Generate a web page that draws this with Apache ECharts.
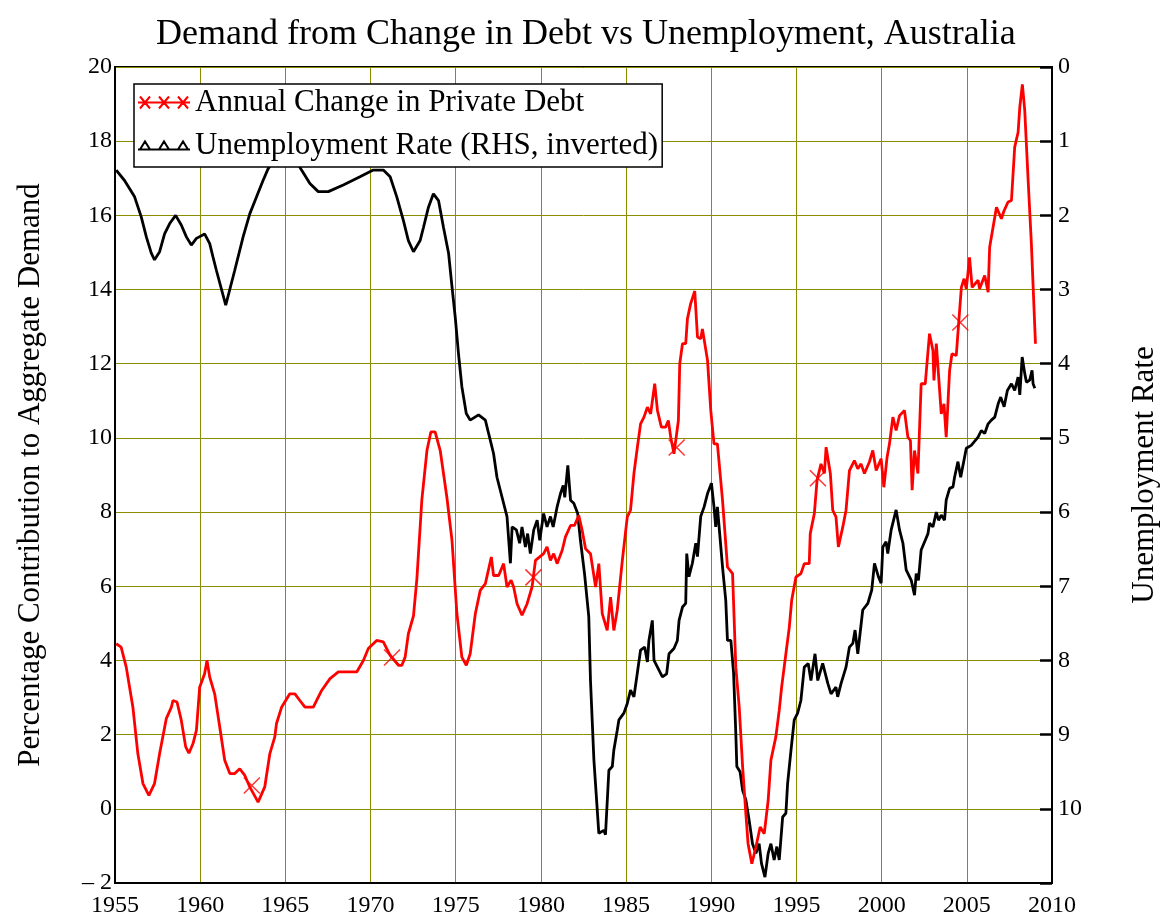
<!DOCTYPE html>
<html>
<head>
<meta charset="utf-8">
<script src="https://cdn.jsdelivr.net/npm/echarts@6/dist/echarts.min.js"></script>
<style>
  html, body { margin: 0; padding: 0; background: #fff; }
</style>
</head>
<body>
<div id="chart" style="width:1162px; height:918px"></div>
<script>
// 私人债务年变化 (左轴, %)
var debtYears = [1955.07, 1955.36, 1955.66, 1956.05, 1956.34, 1956.64, 1956.99, 1957.32, 1957.62, 1958.01,
  1958.31, 1958.40, 1958.64, 1958.89, 1959.15, 1959.34, 1959.58, 1959.78, 1959.97, 1960.26,
  1960.40, 1960.56, 1960.85, 1961.15, 1961.44, 1961.74, 1962.03, 1962.32, 1962.62, 1962.91,
  1963.40, 1963.79, 1964.09, 1964.38, 1964.48, 1964.78, 1965.26, 1965.56, 1965.85, 1966.15,
  1966.64, 1967.13, 1967.62, 1968.11, 1969.19, 1969.58, 1969.87, 1970.36, 1970.75, 1971.15,
  1971.64, 1971.84, 1972.03, 1972.22, 1972.52, 1972.72, 1973.01, 1973.31, 1973.54, 1973.79,
  1974.09, 1974.48, 1974.78, 1975.07, 1975.36, 1975.62, 1975.85, 1976.15, 1976.44, 1976.74,
  1977.09, 1977.22, 1977.52, 1977.81, 1978.01, 1978.25, 1978.40, 1978.60, 1978.89, 1979.19,
  1979.48, 1979.68, 1980.16, 1980.36, 1980.56, 1980.75, 1980.95, 1981.25, 1981.44, 1981.74,
  1981.97, 1982.22, 1982.42, 1982.62, 1982.91, 1983.21, 1983.40, 1983.60, 1983.89, 1984.09,
  1984.28, 1984.48, 1984.78, 1985.07, 1985.26, 1985.46, 1985.66, 1985.85, 1986.05, 1986.25,
  1986.44, 1986.68, 1986.84, 1987.07, 1987.32, 1987.48, 1987.62, 1987.81, 1988.07, 1988.15,
  1988.31, 1988.50, 1988.60, 1988.79, 1989.03, 1989.19, 1989.38, 1989.48, 1989.78, 1989.97,
  1990.16, 1990.36, 1990.66, 1990.85, 1990.95, 1991.25, 1991.44, 1991.64, 1991.84, 1992.03,
  1992.16, 1992.38, 1992.62, 1992.87, 1993.11, 1993.34, 1993.50, 1993.79, 1993.99, 1994.13,
  1994.38, 1994.58, 1994.72, 1994.97, 1995.26, 1995.46, 1995.75, 1995.81, 1996.05, 1996.21,
  1996.44, 1996.64, 1996.74, 1996.99, 1997.13, 1997.32, 1997.46, 1997.72, 1997.91, 1998.11,
  1998.40, 1998.60, 1998.79, 1998.99, 1999.28, 1999.48, 1999.68, 1999.97, 2000.13, 2000.32,
  2000.46, 2000.66, 2000.85, 2001.05, 2001.34, 2001.54, 2001.69, 2001.79, 2001.93, 2002.13,
  2002.32, 2002.56, 2002.81, 2003.01, 2003.07, 2003.21, 2003.50, 2003.66, 2003.79, 2003.99,
  2004.13, 2004.38, 2004.52, 2004.68, 2004.84, 2004.97, 2005.16, 2005.31, 2005.66, 2005.75,
  2006.05, 2006.25, 2006.34, 2006.54, 2006.74, 2007.03, 2007.19, 2007.42, 2007.62, 2007.81,
  2008.01, 2008.11, 2008.26, 2008.40, 2008.60, 2008.79, 2009.03];
var debtValues = [4.45, 4.36, 3.82, 2.74, 1.49, 0.68, 0.36, 0.68, 1.49, 2.43,
  2.74, 2.92, 2.88, 2.39, 1.67, 1.5, 1.76, 2.12, 3.28, 3.64,
  4.0, 3.55, 3.1, 2.2, 1.31, 0.95, 0.95, 1.08, 0.9, 0.59,
  0.18, 0.59, 1.49, 1.94, 2.3, 2.74, 3.1, 3.1, 2.92, 2.74,
  2.74, 3.19, 3.51, 3.69, 3.69, 4.0, 4.32, 4.54, 4.5, 4.14,
  3.87, 3.87, 4.09, 4.72, 5.2, 6.2, 8.32, 9.66, 10.16, 10.16,
  9.66, 8.4, 7.24, 5.26, 4.09, 3.87, 4.18, 5.26, 5.89, 6.07,
  6.79, 6.29, 6.29, 6.61, 5.98, 6.16, 5.98, 5.53, 5.22, 5.53,
  5.98, 6.7, 6.88, 7.06, 6.7, 6.88, 6.61, 6.97, 7.33, 7.64,
  7.64, 7.91, 7.51, 7.01, 6.88, 5.98, 6.61, 5.26, 4.81, 5.71,
  4.81, 5.35, 6.7, 7.87, 8.05, 9.04, 9.74, 10.38, 10.56, 10.83,
  10.65, 11.46, 10.74, 10.29, 10.29, 10.47, 10.02, 9.57, 10.47, 12.0,
  12.54, 12.54, 13.21, 13.62, 13.96, 12.72, 12.67, 12.94, 12.09, 10.74,
  9.84, 9.84, 8.32, 7.15, 6.52, 6.34, 3.82, 2.74, 1.13, -0.13,
  -0.94, -1.48, -1.03, -0.49, -0.67, 0.23, 1.31, 1.94, 2.66, 3.28,
  4.18, 4.9, 5.62, 6.25, 6.34, 6.61, 6.61, 7.42, 7.96, 8.86,
  9.3, 9.04, 9.75, 9.04, 8.05, 7.87, 7.06, 7.6, 8.05, 9.12,
  9.39, 9.17, 9.3, 9.04, 9.35, 9.66, 9.12, 9.44, 8.67, 9.48,
  9.84, 10.56, 10.2, 10.6, 10.74, 10.02, 9.93, 8.59, 9.66, 9.04,
  11.46, 11.46, 12.81, 12.36, 11.55, 12.54, 10.65, 10.92, 10.02, 11.82,
  12.27, 12.22, 13.08, 14.06, 14.29, 14.02, 14.87, 14.06, 14.25, 14.02,
  14.38, 13.93, 15.14, 15.68, 16.22, 15.91, 16.13, 16.36, 16.4, 17.84,
  18.24, 18.92, 19.53, 18.83, 16.94, 15.23, 12.54];

// 曲线上的 X 标记
var markYears = [1963.03, 1971.26, 1979.56, 1987.97, 1996.26, 2004.62];
var markValues = [0.63, 4.08, 6.24, 9.74, 8.91, 13.11];

// 失业率 (右轴, 倒置)
var unempYears = [1955.07, 1955.56, 1956.15, 1956.54, 1956.84, 1957.13, 1957.32, 1957.62, 1957.91, 1958.21,
  1958.56, 1958.89, 1959.19, 1959.48, 1959.78, 1960.26, 1960.56, 1960.75, 1960.95, 1961.50,
  1962.03, 1962.52, 1962.91, 1963.31, 1963.69, 1963.99, 1964.50, 1965.00, 1965.60, 1965.95,
  1966.44, 1966.93, 1967.52, 1968.40, 1969.38, 1970.16, 1970.75, 1971.15, 1971.54, 1971.93,
  1972.22, 1972.52, 1972.91, 1973.11, 1973.40, 1973.69, 1973.99, 1974.28, 1974.58, 1974.78,
  1974.97, 1975.16, 1975.36, 1975.62, 1975.85, 1976.34, 1976.74, 1976.93, 1977.22, 1977.42,
  1977.72, 1978.01, 1978.21, 1978.31, 1978.56, 1978.75, 1978.89, 1979.09, 1979.22, 1979.38,
  1979.58, 1979.78, 1979.93, 1980.16, 1980.36, 1980.56, 1980.72, 1980.95, 1981.15, 1981.31,
  1981.40, 1981.58, 1981.74, 1981.93, 1982.16, 1982.32, 1982.56, 1982.81, 1982.91, 1983.11,
  1983.40, 1983.69, 1983.79, 1983.99, 1984.19, 1984.28, 1984.48, 1984.58, 1984.87, 1985.07,
  1985.26, 1985.46, 1985.66, 1985.85, 1986.09, 1986.25, 1986.34, 1986.54, 1986.64, 1986.93,
  1987.13, 1987.38, 1987.52, 1987.81, 1988.01, 1988.11, 1988.31, 1988.50, 1988.56, 1988.69,
  1988.89, 1989.09, 1989.19, 1989.38, 1989.58, 1989.78, 1990.01, 1990.16, 1990.26, 1990.36,
  1990.66, 1990.85, 1990.95, 1991.15, 1991.31, 1991.44, 1991.50, 1991.69, 1991.84, 1992.03,
  1992.22, 1992.42, 1992.62, 1992.81, 1992.95, 1993.15, 1993.34, 1993.50, 1993.69, 1993.85,
  1993.99, 1994.19, 1994.38, 1994.48, 1994.68, 1994.87, 1995.07, 1995.26, 1995.46, 1995.69,
  1995.85, 1996.09, 1996.25, 1996.54, 1996.84, 1997.03, 1997.32, 1997.42, 1997.62, 1997.91,
  1998.11, 1998.31, 1998.44, 1998.60, 1998.89, 1999.19, 1999.42, 1999.58, 1999.81, 1999.97,
  2000.07, 2000.26, 2000.36, 2000.56, 2000.85, 2001.05, 2001.25, 2001.44, 2001.74, 2001.93,
  2002.03, 2002.16, 2002.32, 2002.56, 2002.72, 2002.81, 2003.01, 2003.21, 2003.34, 2003.50,
  2003.69, 2003.79, 2003.99, 2004.19, 2004.28, 2004.48, 2004.64, 2004.97, 2005.26, 2005.66,
  2005.85, 2006.05, 2006.25, 2006.44, 2006.64, 2006.84, 2006.99, 2007.19, 2007.38, 2007.62,
  2007.81, 2008.01, 2008.11, 2008.25, 2008.40, 2008.50, 2008.69, 2008.83, 2008.89, 2008.99];
var unempValues = [1.39, 1.53, 1.75, 2.02, 2.29, 2.51, 2.6, 2.49, 2.25, 2.11,
  2.0, 2.13, 2.29, 2.4, 2.31, 2.25, 2.38, 2.56, 2.74, 3.21,
  2.74, 2.29, 1.98, 1.75, 1.53, 1.37, 1.2, 1.15, 1.25, 1.39,
  1.57, 1.68, 1.68, 1.59, 1.48, 1.39, 1.39, 1.48, 1.75, 2.07,
  2.34, 2.49, 2.34, 2.16, 1.89, 1.71, 1.8, 2.16, 2.51, 2.96,
  3.37, 3.86, 4.31, 4.67, 4.76, 4.69, 4.76, 4.94, 5.21, 5.53,
  5.8, 6.06, 6.69, 6.2, 6.24, 6.42, 6.2, 6.47, 6.29, 6.56,
  6.24, 6.11, 6.38, 6.02, 6.2, 6.06, 6.2, 5.93, 5.75, 5.64,
  5.8, 5.37, 5.84, 5.88, 6.02, 6.38, 6.83, 7.41, 8.27, 9.34,
  10.33, 10.29, 10.35, 9.48, 9.43, 9.21, 8.94, 8.8, 8.71, 8.58,
  8.4, 8.49, 8.17, 7.86, 7.82, 8.02, 7.73, 7.46, 8.0, 8.13,
  8.22, 8.18, 7.91, 7.84, 7.73, 7.46, 7.28, 7.23, 6.56, 6.87,
  6.69, 6.42, 6.6, 6.06, 5.93, 5.75, 5.61, 5.93, 6.2, 5.93,
  6.74, 7.19, 7.73, 7.73, 8.17, 8.98, 9.43, 9.5, 9.75, 9.88,
  10.15, 10.47, 10.6, 10.47, 10.74, 10.92, 10.6, 10.47, 10.69, 10.51,
  10.69, 10.11, 10.06, 9.66, 9.21, 8.8, 8.71, 8.54, 8.09, 8.04,
  8.27, 7.91, 8.27, 8.04, 8.31, 8.45, 8.36, 8.49, 8.31, 8.09,
  7.82, 7.77, 7.59, 7.91, 7.32, 7.23, 7.05, 6.69, 6.87, 6.96,
  6.47, 6.4, 6.56, 6.24, 5.97, 6.24, 6.42, 6.78, 6.92, 7.12,
  6.83, 6.92, 6.51, 6.38, 6.29, 6.15, 6.2, 6.0, 6.11, 6.04,
  6.11, 5.84, 5.68, 5.66, 5.53, 5.32, 5.53, 5.14, 5.1, 4.99,
  4.9, 4.94, 4.81, 4.76, 4.72, 4.54, 4.45, 4.58, 4.36, 4.27,
  4.36, 4.18, 4.42, 3.91, 4.13, 4.25, 4.22, 4.09, 4.27, 4.33];

var debtName = "Annual Change in Private Debt";
var unempName = "Unemployment Rate (RHS, inverted)";

function zip(xs, ys) {
  return xs.map(function (x, i) { return [x, ys[i]]; });
}

var serif = "Liberation Serif";
var gridColor = "#8c8c00";

var myChart = echarts.init(document.getElementById("chart"));

myChart.setOption({
  animation: false,
  backgroundColor: "#fff",
  title: {
    text: "Demand from Change in Debt vs Unemployment, Australia",
    left: 156,
    top: 17,
    padding: 0,
    textStyle: { fontFamily: serif, fontSize: 36, fontWeight: "normal", color: "#000" }
  },
  grid: {
    left: 115,
    right: 110,
    top: 67,
    bottom: 35,
    outerBoundsMode: "none", // 不让 v6 自动收缩绘图区
    show: true,
    borderColor: "#000",
    borderWidth: 2,
    backgroundColor: "transparent"
  },
  legend: {
    orient: "vertical",
    left: 134,
    top: 84,
    padding: [3, 4, 6, 3],
    itemGap: 12,
    itemWidth: 52,
    itemHeight: 14,
    backgroundColor: "#fff",
    borderColor: "#000",
    borderWidth: 1.5,
    textStyle: { fontFamily: serif, fontSize: 31, color: "#000", lineHeight: 31 },
    data: [
      {
        name: debtName,
        // 一条线加三个 X
        icon: "path://M0,7L52,7M2,1L12,13M2,13L12,1M21,1L31,13M21,13L31,1M40,1L50,13M40,13L50,1",
        itemStyle: { color: "transparent", borderColor: "#ff0000", borderWidth: 2 }
      },
      {
        name: unempName,
        icon: "path://M0,12L52,12M2,12L7,4L12,12ZM21,12L26,4L31,12ZM40,12L45,4L50,12Z",
        itemStyle: { color: "transparent", borderColor: "#000", borderWidth: 2 }
      }
    ]
  },
  xAxis: {
    type: "value",
    min: 1955,
    max: 2010,
    interval: 5,
    axisLine: { show: true, onZero: false, lineStyle: { color: "#000", width: 2 } },
    axisTick: { show: false },
    axisLabel: {
      fontFamily: serif,
      fontSize: 24,
      color: "#000",
      margin: 11,
      formatter: function (v) { return String(v); }
    },
    splitLine: { show: true, lineStyle: { color: gridColor, width: 1 } }
  },
  yAxis: [
    {
      type: "value",
      min: -2,
      max: 20,
      interval: 2,
      name: "Percentage Contribution to Aggregate Demand",
      nameLocation: "middle",
      nameRotate: 90,
      nameGap: 69,
      nameTextStyle: { fontFamily: serif, fontSize: 31, color: "#000" },
      axisLine: { show: true, lineStyle: { color: "#000", width: 2 } },
      axisTick: { show: false },
      axisLabel: {
        fontFamily: serif,
        fontSize: 24,
        color: "#000",
        margin: 3,
        formatter: function (v) { return v < 0 ? "\u2013 " + Math.abs(v) : String(v); }
      },
      splitLine: { show: true, lineStyle: { color: gridColor, width: 1 } }
    },
    {
      type: "value",
      position: "right",
      inverse: true,
      min: 0,
      max: 11,
      interval: 1,
      name: "Unemployment Rate",
      nameLocation: "middle",
      nameRotate: 90,
      nameGap: 77,
      nameTextStyle: { fontFamily: serif, fontSize: 31, color: "#000" },
      axisLine: { show: true, lineStyle: { color: "#000", width: 2 } },
      axisTick: { show: true, inside: true, length: 12, lineStyle: { color: "#000", width: 2.5 } },
      axisLabel: {
        fontFamily: serif,
        fontSize: 24,
        color: "#000",
        margin: 6,
        formatter: function (v) { return v === 11 ? "" : String(v); }
      },
      splitLine: { show: false }
    }
  ],
  series: [
    {
      name: debtName,
      type: "line",
      yAxisIndex: 0,
      data: zip(debtYears, debtValues),
      symbol: "none",
      lineStyle: { color: "#ff0000", width: 2.8 },
      itemStyle: { color: "#ff0000" },
      z: 3
    },
    {
      name: "debtMarks",
      type: "scatter",
      yAxisIndex: 0,
      data: zip(markYears, markValues),
      symbol: "path://M0,0L10,10M0,10L10,0",
      symbolSize: 16,
      itemStyle: { color: "transparent", borderColor: "#ff0000", borderWidth: 1.5 },
      z: 3
    },
    {
      name: unempName,
      type: "line",
      yAxisIndex: 1,
      data: zip(unempYears, unempValues),
      symbol: "none",
      lineStyle: { color: "#000", width: 2.8 },
      itemStyle: { color: "#000" },
      z: 2
    }
  ]
});
</script>
</body>
</html>
